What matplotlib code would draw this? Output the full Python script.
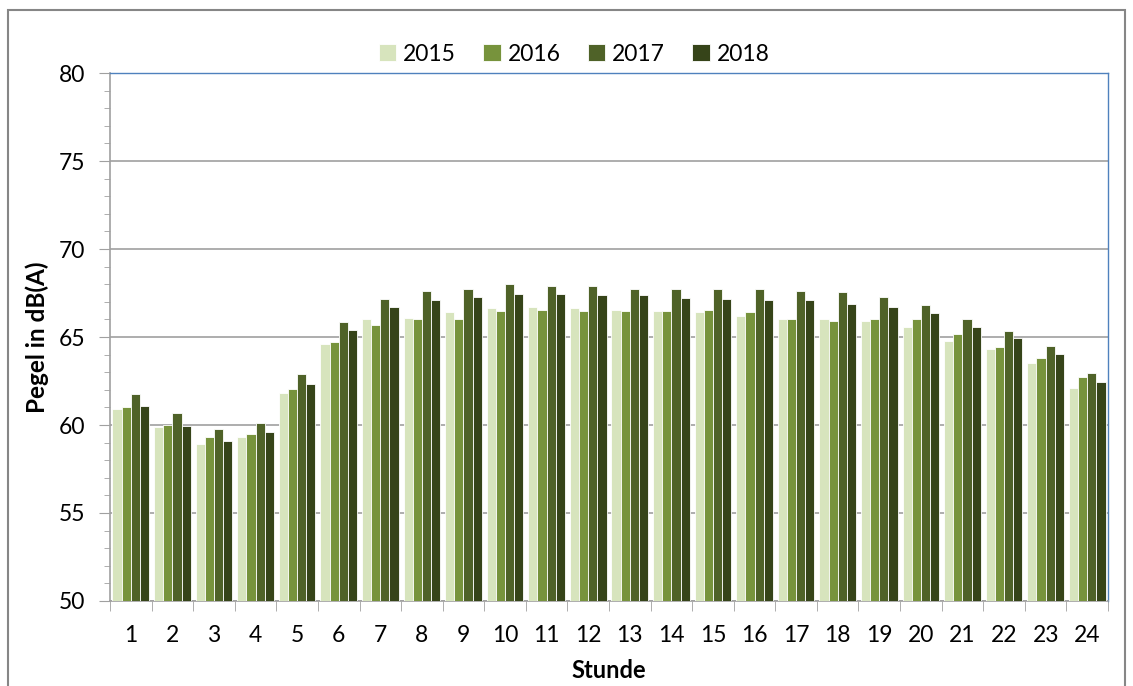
import numpy as np
import matplotlib
matplotlib.use('Agg')
import matplotlib.pyplot as plt
from matplotlib.patches import Rectangle
from matplotlib.ticker import MultipleLocator

plt.rcParams['font.family'] = ['Lato', 'DejaVu Sans']

# Daten: mittlerer Pegel je Stunde
hours = list(range(1, 25))
years = ['2015', '2016', '2017', '2018']
y2015 = [60.9, 59.9, 58.9, 59.3, 61.8, 64.6, 66.0, 66.1, 66.4, 66.65, 66.7, 66.65,
         66.55, 66.5, 66.4, 66.2, 66.05, 66.0, 65.9, 65.55, 64.8, 64.3, 63.55, 62.1]
y2016 = [61.05, 60.0, 59.3, 59.5, 62.05, 64.7, 65.7, 66.0, 66.05, 66.5, 66.55, 66.5,
         66.5, 66.45, 66.55, 66.4, 66.05, 65.9, 66.0, 66.0, 65.15, 64.45, 63.8, 62.75]
y2017 = [61.75, 60.7, 59.8, 60.1, 62.9, 65.85, 67.15, 67.6, 67.75, 68.0, 67.9, 67.9,
         67.75, 67.75, 67.7, 67.75, 67.6, 67.55, 67.3, 66.8, 66.0, 65.35, 64.5, 62.95]
y2018 = [61.1, 59.95, 59.1, 59.6, 62.35, 65.4, 66.7, 67.1, 67.3, 67.45, 67.45, 67.4,
         67.4, 67.2, 67.15, 67.1, 67.1, 66.9, 66.7, 66.35, 65.55, 64.95, 64.05, 62.45]
series = [y2015, y2016, y2017, y2018]
colors = ['#d7e4bd', '#77933c', '#4f6228', '#364419']

fig = plt.figure(figsize=(11.33, 6.86), dpi=100)
ax = fig.add_axes([110/1133, 1 - 601/686, (1108-110)/1133, (601-73)/686])

# Rahmen um das Diagramm
fig.patches.append(Rectangle((8/1133, -0.05), (1125-8)/1133, 1.05 - 10/686,
                             transform=fig.transFigure, fill=False,
                             edgecolor='#868686', lw=1.5))

x = np.arange(len(hours))
w = 0.22
for i, (vals, c, lab) in enumerate(zip(series, colors, years)):
    ax.bar(x + (i - 1.5) * w, np.array(vals) - 50, w, bottom=50, color=c,
           edgecolor='white', linewidth=0.6, label=lab, zorder=3)

ax.set_xlim(-0.5, len(hours) - 0.5)
ax.set_ylim(50, 80)
ax.yaxis.set_major_locator(MultipleLocator(5))
ax.yaxis.set_minor_locator(MultipleLocator(1))
ax.grid(axis='y', which='major', color='#a0a0a0', lw=1.2, zorder=0)

ax.set_xticks(x)
ax.set_xticklabels([str(h) for h in hours])
ax.set_xticks(np.arange(-0.5, len(hours)), minor=True)
ax.tick_params(axis='x', which='major', length=0, pad=17, labelsize=16.5)
ax.tick_params(axis='x', which='minor', length=7, color='#a0a0a0', direction='out')
ax.tick_params(axis='y', which='major', length=8, color='#a0a0a0', labelsize=16.5, pad=10)
ax.tick_params(axis='y', which='minor', length=4, color='#a0a0a0')

for s in ['left', 'bottom']:
    ax.spines[s].set_color('#a0a0a0')
    ax.spines[s].set_linewidth(1.2)
for s in ['top', 'right']:
    ax.spines[s].set_color('#4f81bd')
    ax.spines[s].set_linewidth(1.0)

ax.set_ylabel('Pegel in dB(A)', fontsize=17.5, fontweight='bold', labelpad=7)
ax.set_xlabel('Stunde', fontsize=17, fontweight='bold', labelpad=10)

ax.legend(loc='lower center', bbox_to_anchor=(0.465, 0.99), ncol=4, frameon=False,
          fontsize=16.5, handlelength=0.75, handleheight=0.75, handletextpad=0.3,
          columnspacing=1.2, borderaxespad=0.2)

fig.savefig('out.png', dpi=100)
